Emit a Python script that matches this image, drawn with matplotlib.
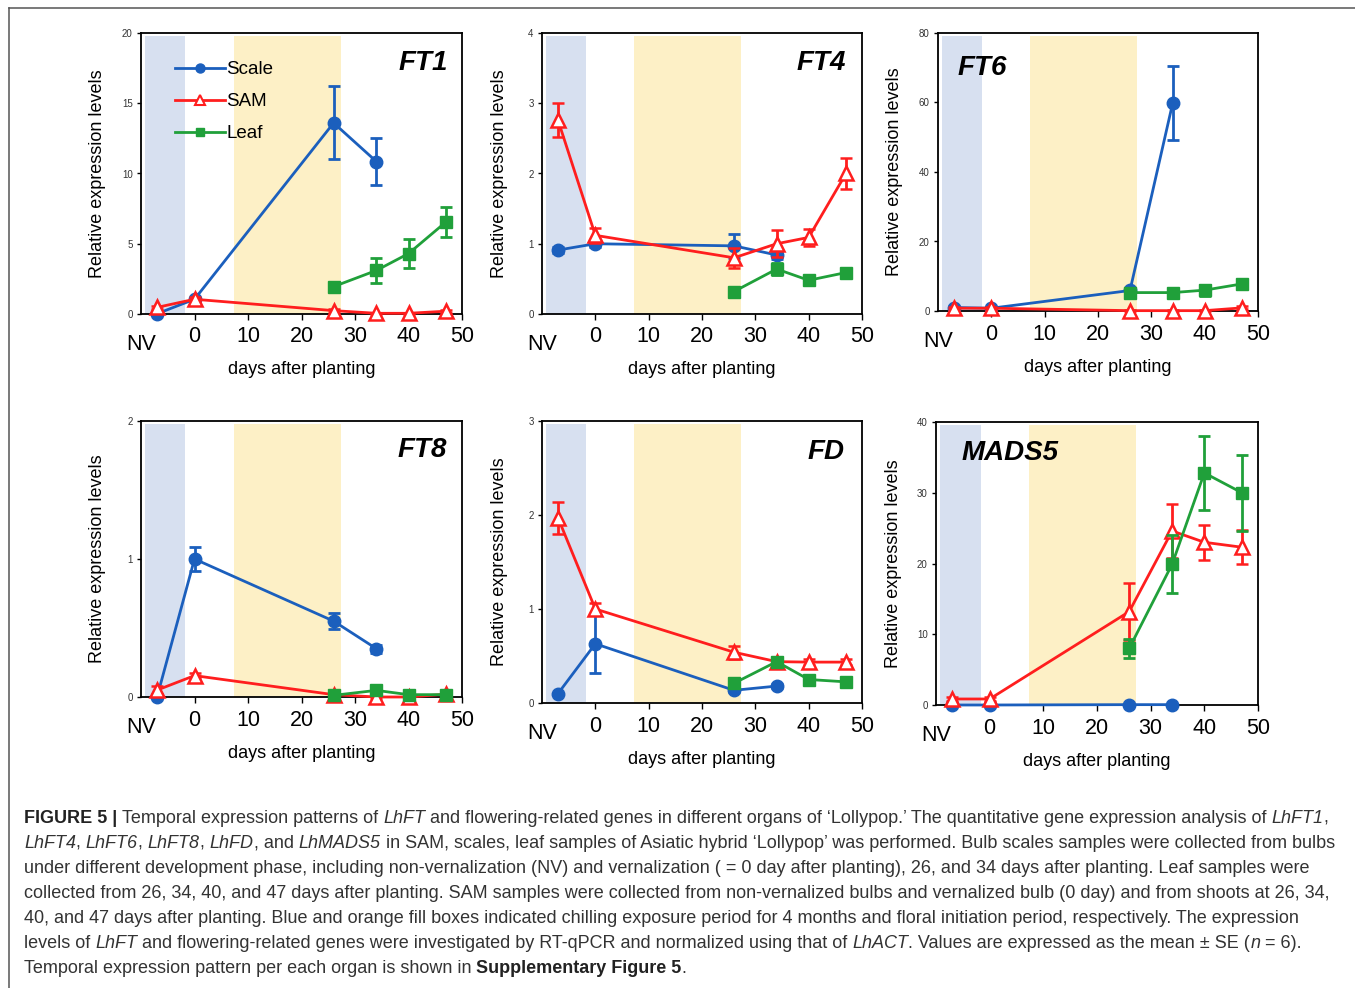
"""Temporal expression of LhFT and flowering-related genes in scale, SAM and leaf."""

from __future__ import annotations

import matplotlib

matplotlib.use("Agg")

import matplotlib.pyplot as plt
from matplotlib.lines import Line2D

plt.rcParams["font.family"] = ["Liberation Sans", "DejaVu Sans"]

W, H = 1355, 988

# sampling days; NV (non-vernalized) is drawn at x = -7
SCALE_DAYS = [-7, 0, 26, 34]
SAM_DAYS = [-7, 0, 26, 34, 40, 47]
LEAF_DAYS = [26, 34, 40, 47]

GENES = ["FT1", "FT4", "FT6", "FT8", "FD", "MADS5"]
Y_MAX = [20, 4, 80, 2, 3, 40]
Y_STEP = [5, 1, 20, 1, 1, 10]

FT1_SCALE = [0.02, 1.05, 13.6, 10.85]
FT1_SCALE_ERR = [0.05, 0.1, 2.6, 1.7]
FT1_SAM = [0.47, 1.05, 0.24, 0.05, 0.05, 0.2]
FT1_SAM_ERR = [0.1, 0.15, 0.1, 0.05, 0.05, 0.1]
FT1_LEAF = [1.95, 3.1, 4.3, 6.55]
FT1_LEAF_ERR = [0.25, 0.9, 1.05, 1.1]

FT4_SCALE = [0.91, 1.0, 0.97, 0.84]
FT4_SCALE_ERR = [0.04, 0.05, 0.17, 0.05]
FT4_SAM = [2.76, 1.12, 0.8, 1.0, 1.09, 2.0]
FT4_SAM_ERR = [0.24, 0.11, 0.14, 0.19, 0.12, 0.22]
FT4_LEAF = [0.32, 0.64, 0.48, 0.59]
FT4_LEAF_ERR = [0.03, 0.08, 0.04, 0.05]

FT6_SCALE = [1.0, 0.8, 5.9, 59.8]
FT6_SCALE_ERR = [0.3, 0.3, 0.8, 10.7]
FT6_SAM = [0.8, 0.8, 0.1, 0.1, 0.1, 0.9]
FT6_SAM_ERR = [0.3, 0.3, 0.1, 0.1, 0.1, 0.4]
FT6_LEAF = [5.3, 5.3, 6.0, 7.8]
FT6_LEAF_ERR = [1.0, 0.8, 1.6, 1.0]

FT8_SCALE = [0.0, 1.0, 0.55, 0.35]
FT8_SCALE_ERR = [0.0, 0.09, 0.06, 0.03]
FT8_SAM = [0.05, 0.155, 0.017, 0.0, 0.0, 0.02]
FT8_SAM_ERR = [0.03, 0.02, 0.01, 0.01, 0.01, 0.01]
FT8_LEAF = [0.012, 0.048, 0.017, 0.017]
FT8_LEAF_ERR = [0.005, 0.01, 0.005, 0.005]

FD_SCALE = [0.10, 0.63, 0.135, 0.18]
FD_SCALE_ERR = [0.01, 0.31, 0.02, 0.02]
FD_SAM = [1.97, 1.0, 0.54, 0.44, 0.435, 0.435]
FD_SAM_ERR = [0.17, 0.06, 0.07, 0.03, 0.03, 0.03]
FD_LEAF = [0.21, 0.44, 0.25, 0.225]
FD_LEAF_ERR = [0.02, 0.05, 0.04, 0.02]

MADS5_SCALE = [0.0, 0.0, 0.05, 0.05]
MADS5_SCALE_ERR = [0.0, 0.0, 0.0, 0.0]
MADS5_SAM = [0.85, 0.85, 13.2, 24.6, 23.0, 22.3]
MADS5_SAM_ERR = [0.3, 0.3, 4.0, 3.8, 2.5, 2.4]
MADS5_LEAF = [8.0, 19.9, 32.8, 30.0]
MADS5_LEAF_ERR = [1.3, 4.1, 5.2, 5.4]

SERIES = {
    "FT1": (FT1_SCALE, FT1_SCALE_ERR, FT1_SAM, FT1_SAM_ERR, FT1_LEAF, FT1_LEAF_ERR),
    "FT4": (FT4_SCALE, FT4_SCALE_ERR, FT4_SAM, FT4_SAM_ERR, FT4_LEAF, FT4_LEAF_ERR),
    "FT6": (FT6_SCALE, FT6_SCALE_ERR, FT6_SAM, FT6_SAM_ERR, FT6_LEAF, FT6_LEAF_ERR),
    "FT8": (FT8_SCALE, FT8_SCALE_ERR, FT8_SAM, FT8_SAM_ERR, FT8_LEAF, FT8_LEAF_ERR),
    "FD": (FD_SCALE, FD_SCALE_ERR, FD_SAM, FD_SAM_ERR, FD_LEAF, FD_LEAF_ERR),
    "MADS5": (MADS5_SCALE, MADS5_SCALE_ERR, MADS5_SAM, MADS5_SAM_ERR, MADS5_LEAF, MADS5_LEAF_ERR),
}

# chilling (blue) and floral initiation (orange) periods
CHILL_SPAN = (-9.2, -1.7)
FLORAL_SPAN = (7.3, 27.3)

BLUE = "#1b5fbd"
RED = "#ff1e1e"
GREEN = "#20a03a"

# axes boxes in pixels: left, right, top, bottom
BOXES = [
    (141, 462, 33, 314), (542, 862, 33, 314), (938, 1258, 33, 311),
    (141, 462, 421, 697), (542, 862, 421, 703), (936, 1258, 422, 705),
]
# gene label: x, y (axes fraction), alignment
LABEL_POS = [
    (0.955, 0.893, "right"), (0.950, 0.893, "right"), (0.060, 0.875, "left"),
    (0.953, 0.895, "right"), (0.945, 0.89, "right"), (0.080, 0.89, "left"),
]

CAPTION = [
    [("FIGURE 5 | ", "b"), ("Temporal expression patterns of ", "n"), ("LhFT", "i"),
     (" and flowering-related genes in different organs of \u2018Lollypop.\u2019 The quantitative gene "
      "expression analysis of ", "n"), ("LhFT1", "i"), (",", "n")],
    [("LhFT4", "i"), (", ", "n"), ("LhFT6", "i"), (", ", "n"), ("LhFT8", "i"), (", ", "n"),
     ("LhFD", "i"), (", and ", "n"), ("LhMADS5", "i"),
     (" in SAM, scales, leaf samples of Asiatic hybrid \u2018Lollypop\u2019 was performed. Bulb scales "
      "samples were collected from bulbs", "n")],
    [("under different development phase, including non-vernalization (NV) and vernalization "
      "( = 0 day after planting), 26, and 34 days after planting. Leaf samples were", "n")],
    [("collected from 26, 34, 40, and 47 days after planting. SAM samples were collected from "
      "non-vernalized bulbs and vernalized bulb (0 day) and from shoots at 26, 34,", "n")],
    [("40, and 47 days after planting. Blue and orange fill boxes indicated chilling exposure period "
      "for 4 months and floral initiation period, respectively. The expression", "n")],
    [("levels of ", "n"), ("LhFT", "i"),
     (" and flowering-related genes were investigated by RT-qPCR and normalized using that of ", "n"),
     ("LhACT", "i"), (". Values are expressed as the mean \u00b1 SE (", "n"), ("n", "i"), (" = 6).", "n")],
    [("Temporal expression pattern per each organ is shown in ", "n"),
     ("Supplementary Figure 5", "b"), (".", "n")],
]


def _style(kind):
    if kind == "b":
        return {"fontweight": "bold", "color": "#222222"}
    if kind == "i":
        return {"fontstyle": "italic", "color": "#333333"}
    return {"color": "#333333"}


def _text_width(fig, renderer, text, size, kind):
    # measure with bar sentinels so leading/trailing spaces count
    probe = fig.text(0, 0, "|" + text + "|", fontsize=size, **_style(kind))
    bars = fig.text(0, 0, "||", fontsize=size, **_style(kind))
    width = probe.get_window_extent(renderer).width - bars.get_window_extent(renderer).width
    probe.remove()
    bars.remove()
    return width


def draw_caption(fig):
    renderer = fig.canvas.get_renderer()
    base = 12.0
    widest = max(sum(_text_width(fig, renderer, t, base, k) for t, k in line) for line in CAPTION)
    size = base * 1312 / widest
    for i, line in enumerate(CAPTION):
        x = 24.0
        y = 1 - (818 + 25 * i) / H
        for text, kind in line:
            fig.text(x / W, y, text, fontsize=size, va="center", ha="left", **_style(kind))
            x += _text_width(fig, renderer, text, size, kind)


def draw_panel(ax, gene, ymax, ystep, label_pos, legend):
    scale, scale_err, sam, sam_err, leaf, leaf_err = SERIES[gene]
    ax.axvspan(*CHILL_SPAN, ymin=0, ymax=0.99, color="#d7e0f0", lw=0, zorder=0)
    ax.axvspan(*FLORAL_SPAN, ymin=0, ymax=0.99, color="#fdf0c6", lw=0, zorder=0)

    common = dict(lw=2.0, elinewidth=2.0, capsize=4, capthick=2.0, clip_on=False)
    ax.errorbar(SCALE_DAYS, scale, yerr=scale_err, color=BLUE, marker="o", ms=9, zorder=3, **common)
    ax.errorbar(SAM_DAYS, sam, yerr=sam_err, color=RED, marker="^", ms=10, mfc="white",
                mew=1.8, zorder=4, **common)
    ax.errorbar(LEAF_DAYS, leaf, yerr=leaf_err, color=GREEN, marker="s", ms=8.5, zorder=5, **common)

    ax.set_xlim(-10, 50)
    ax.set_ylim(0, ymax)
    ax.set_xticks(range(0, 51, 10))
    ax.set_yticks(range(0, ymax + 1, ystep))
    ax.tick_params(axis="x", labelsize=15.5, length=4, width=1, pad=5)
    ax.tick_params(axis="y", labelsize=7, labelcolor="#333333", length=3, width=1, pad=3)
    for spine in ax.spines.values():
        spine.set_linewidth(1.3)

    box_h = ax.get_window_extent().height
    box_w = ax.get_window_extent().width
    ax.annotate("NV", xy=(0, 0), xycoords="axes fraction", xytext=(0, -22),
                textcoords="offset points", ha="center", va="center", fontsize=15.5)
    ax.set_xlabel("days after planting", fontsize=13)
    ax.xaxis.set_label_coords(0.5, -56 / box_h)
    ax.xaxis.label.set_va("center")
    ax.set_ylabel("Relative expression levels", fontsize=13)
    ax.yaxis.set_label_coords(-43 / box_w, 0.5)
    ax.yaxis.label.set_va("center")

    lx, ly, ha = label_pos
    ax.text(lx, ly, gene, transform=ax.transAxes, ha=ha, va="center",
            fontsize=20, fontweight="bold", fontstyle="italic")

    if legend:
        handles = [
            Line2D([], [], color=BLUE, lw=2.0, marker="o", ms=6.5),
            Line2D([], [], color=RED, lw=2.0, marker="^", ms=7, mfc="white", mew=1.5),
            Line2D([], [], color=GREEN, lw=2.0, marker="s", ms=6),
        ]
        ax.legend(handles, ["Scale", "SAM", "Leaf"], loc="upper left",
                  bbox_to_anchor=(0.105, 0.90), frameon=False, fontsize=13.5,
                  handlelength=2.7, handletextpad=0.05, labelspacing=0.8,
                  borderpad=0, borderaxespad=0, numpoints=1)


def main() -> None:
    fig = plt.figure(figsize=(W / 100, H / 100), dpi=100)
    for i, gene in enumerate(GENES):
        left, right, top, bottom = BOXES[i]
        ax = fig.add_axes([left / W, 1 - bottom / H, (right - left) / W, (bottom - top) / H])
        draw_panel(ax, gene, Y_MAX[i], Y_STEP[i], LABEL_POS[i], legend=(i == 0))

    # frame lines along the top and left of the figure
    fig.add_artist(Line2D([8.5 / W, 1], [1 - 8.5 / H, 1 - 8.5 / H], color="#555555", lw=1.1))
    fig.add_artist(Line2D([8.5 / W, 8.5 / W], [0, 1 - 8.5 / H], color="#555555", lw=1.1))

    draw_caption(fig)
    fig.savefig("out.png", dpi=100)
    plt.close(fig)


if __name__ == "__main__":
    main()
